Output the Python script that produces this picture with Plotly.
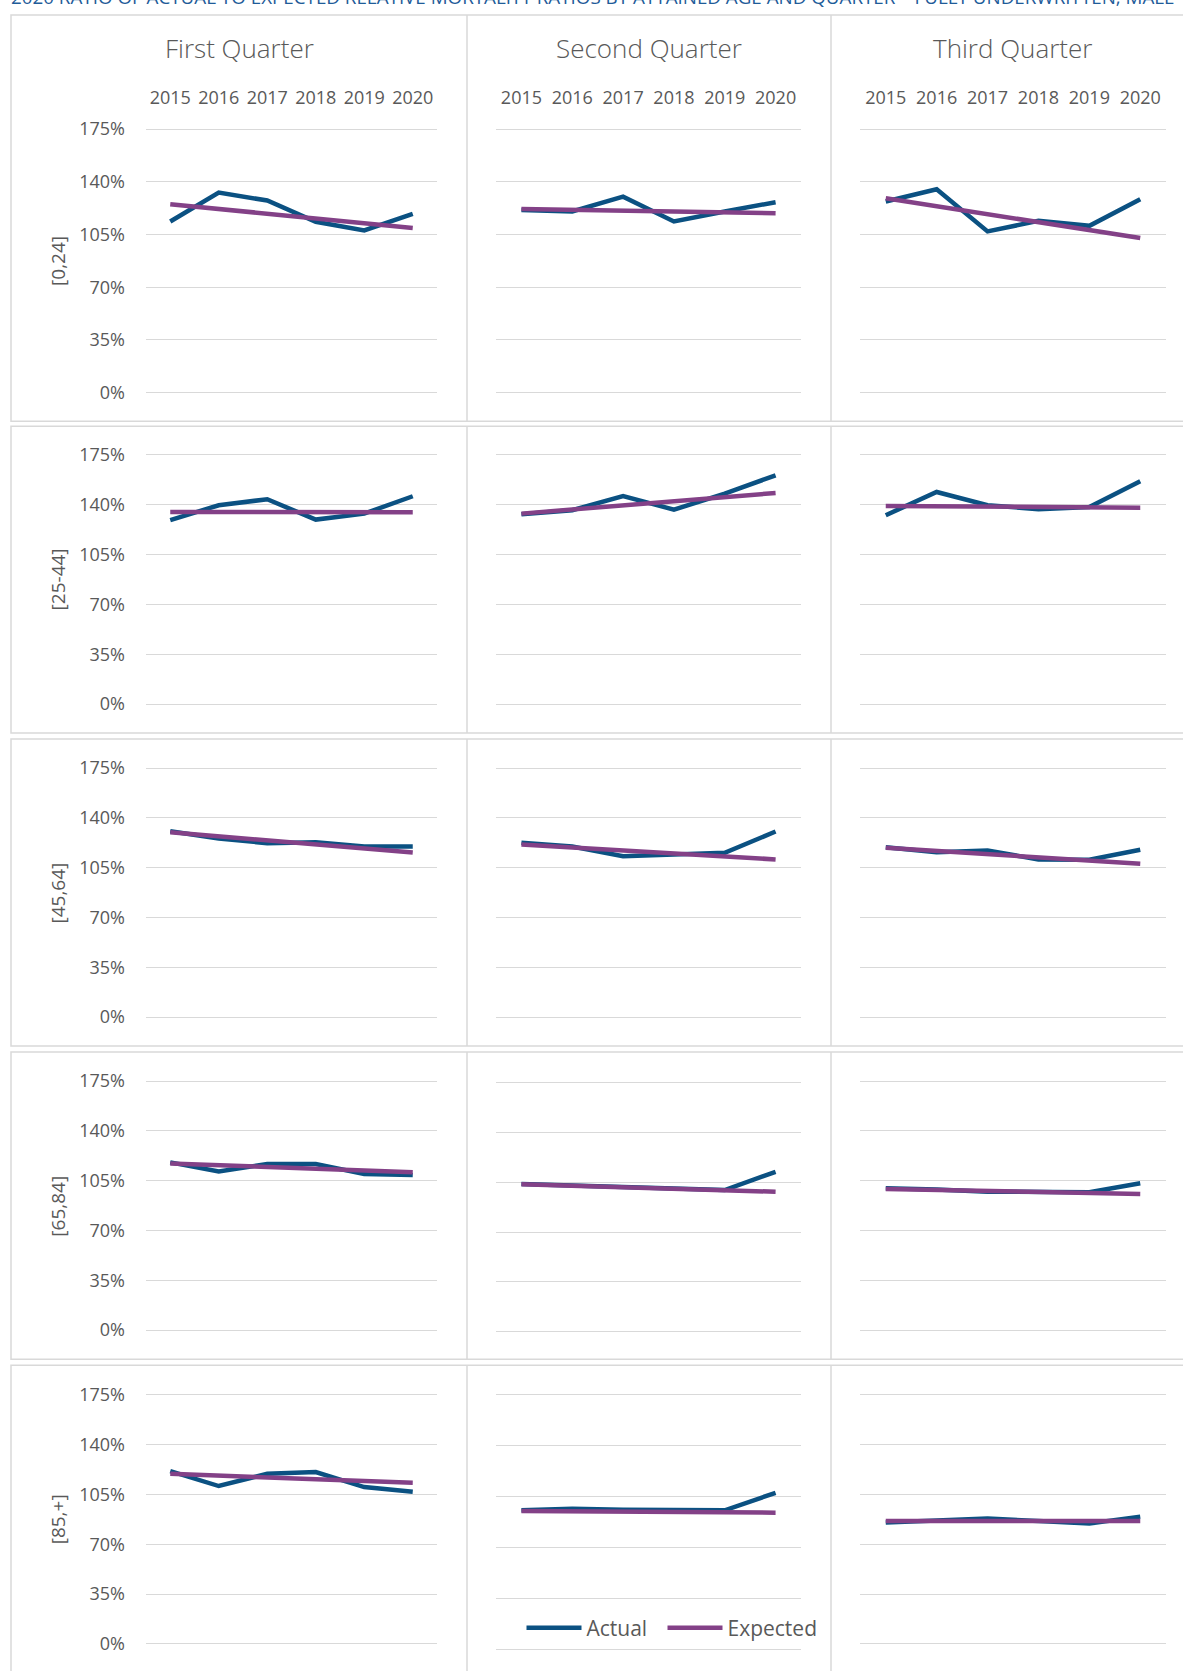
import plotly.graph_objects as go

W, H = 1183, 1671

years = ["2015", "2016", "2017", "2018", "2019", "2020"]
quarters = ["First Quarter", "Second Quarter", "Third Quarter"]
age_bands = ["[0,24]", "[25-44]", "[45,64]", "[65,84]", "[85,+]"]
pct_ticks = [0, 35, 70, 105, 140, 175]
pct_labels = ["0%", "35%", "70%", "105%", "140%", "175%"]

# A/E ratios (%) per age band, one list per quarter (Q1, Q2, Q3)
actual_0_24 = [
    [113.7, 132.9, 127.6, 113.5, 107.8, 118.8],
    [121.4, 120.3, 130.2, 113.7, 120.3, 126.5],
    [127.0, 135.1, 107.1, 114.1, 110.8, 128.5],
]
expected_0_24 = [
    [125.2, 122.0, 118.7, 115.5, 112.4, 109.3],
    [121.9, 121.4, 120.9, 120.3, 119.8, 119.2],
    [129.1, 123.8, 118.5, 113.3, 108.0, 102.7],
]
actual_25_44 = [
    [129.1, 139.6, 143.8, 129.5, 133.7, 145.9],
    [133.3, 136.1, 146.1, 136.5, 147.7, 160.6],
    [132.6, 148.9, 139.6, 136.8, 138.4, 156.4],
]
expected_25_44 = [
    [134.9, 134.8, 134.7, 134.7, 134.7, 134.7],
    [133.7, 136.6, 139.5, 142.4, 145.3, 148.2],
    [139.1, 138.9, 138.6, 138.4, 138.1, 137.9],
]
actual_45_64 = [
    [130.6, 125.5, 122.2, 122.9, 119.9, 119.9],
    [122.5, 119.9, 113.1, 114.1, 115.5, 130.4],
    [119.4, 115.9, 117.1, 110.8, 110.6, 117.6],
]
expected_45_64 = [
    [129.9, 127.1, 124.2, 121.4, 118.5, 115.7],
    [121.3, 119.2, 117.1, 115.0, 112.9, 110.8],
    [119.0, 116.8, 114.5, 112.3, 110.0, 107.8],
]
actual_65_84 = [
    [117.9, 111.6, 116.7, 116.7, 109.7, 109.0],
    [103.8, 102.8, 101.6, 100.5, 99.6, 112.4],
    [99.7, 98.9, 97.3, 96.9, 96.9, 103.2],
]
expected_65_84 = [
    [117.2, 115.9, 114.7, 113.4, 112.2, 110.9],
    [103.6, 102.6, 101.5, 100.5, 99.4, 98.4],
    [99.2, 98.5, 97.8, 97.1, 96.4, 95.7],
]
actual_85_plus = [
    [121.4, 110.9, 119.5, 120.7, 110.2, 106.9],
    [95.5, 96.6, 95.9, 95.9, 95.5, 107.6],
    [85.2, 86.8, 88.0, 86.4, 84.5, 89.4],
]
expected_85_plus = [
    [119.5, 118.2, 117.0, 115.7, 114.5, 113.2],
    [95.1, 94.9, 94.6, 94.4, 94.1, 93.9],
    [86.4, 86.4, 86.4, 86.4, 86.4, 86.4],
]

actual = [actual_0_24, actual_25_44, actual_45_64, actual_65_84, actual_85_plus]
expected = [expected_0_24, expected_25_44, expected_45_64, expected_65_84, expected_85_plus]

ACTUAL_COLOR = "#0B5182"
EXPECTED_COLOR = "#834187"
GRID = "#D9D9D9"
TEXT = "#595959"
FONT = "Open Sans"

# grid geometry (pixels): plot x-extent per column, y of 0% and 175% per row
col_x = [(146.0, 437.0), (496.0, 801.0), (860.3, 1165.7)]
col_box = [(11.0, 467.0), (467.0, 831.0), (831.0, 1193.0)]
row_zero = [390.3, 703.0, 1017.3, 1331.7, 1646.7]
row_top = [125.7, 452.7, 767.3, 1081.7, 1396.7]
panel_override = {(3, 1): (1333.3, 1083.3), (4, 1): (1652.0, 1396.7)}
row_box = [(11.0, 419.0), (424.0, 732.0), (738.0, 1046.5), (1052.5, 1361.0), (1367.0, 1690.0)]
Y_LO, Y_HI = -6.0, 181.0


def px_x(x):
    return x / W


def px_y(y):
    return 1 - y / H


fig = go.Figure()
layout_axes = {}

for i in range(len(age_bands)):
    for j in range(len(quarters)):
        n = i * 3 + j + 1
        xs = "" if n == 1 else str(n)
        zero, top = panel_override.get((i, j), (row_zero[i], row_top[i]))
        scale = (zero - top) / 175.0
        bottom_px = zero - Y_LO * scale
        top_px = top - (Y_HI - 175.0) * scale

        fig.add_trace(go.Scatter(
            x=years, y=actual[i][j], mode="lines", name="Actual",
            line=dict(color=ACTUAL_COLOR, width=4.5),
            xaxis="x" + xs, yaxis="y" + xs,
            legend="legend", legendgroup="Actual", showlegend=(n == 1),
            hovertemplate="%{x}: %{y:.1f}%<extra>Actual</extra>",
        ))
        fig.add_trace(go.Scatter(
            x=years, y=expected[i][j], mode="lines", name="Expected",
            line=dict(color=EXPECTED_COLOR, width=4.5),
            xaxis="x" + xs, yaxis="y" + xs,
            legend="legend2", legendgroup="Expected", showlegend=(n == 1),
            hovertemplate="%{x}: %{y:.1f}%<extra>Expected</extra>",
        ))

        layout_axes["xaxis" + xs] = dict(
            domain=[px_x(col_x[j][0]), px_x(col_x[j][1])],
            anchor="y" + xs, type="category", range=[-0.5, 5.5],
            showgrid=False, zeroline=False, showline=False, ticks="",
            side="top", showticklabels=(i == 0), ticklabelstandoff=12,
            tickfont=dict(family=FONT, size=18, color=TEXT),
            fixedrange=True,
        )
        layout_axes["yaxis" + xs] = dict(
            domain=[px_y(bottom_px), px_y(top_px)],
            anchor="x" + xs, range=[Y_LO, Y_HI],
            tickmode="array", tickvals=pct_ticks, ticktext=pct_labels,
            showgrid=True, gridcolor=GRID, gridwidth=1.3,
            zeroline=False, showline=False, ticks="",
            showticklabels=(j == 0), ticklabelstandoff=20,
            tickfont=dict(family=FONT, size=18, color=TEXT),
            fixedrange=True,
        )

# panel frames
shapes = []
for (y0, y1) in row_box:
    shapes.append(dict(type="rect", xref="paper", yref="paper",
                       x0=px_x(11.0), x1=px_x(1200.0), y0=px_y(y1), y1=px_y(y0),
                       line=dict(color=GRID, width=1.5), layer="below"))
    for xv in (467.0, 831.0):
        shapes.append(dict(type="line", xref="paper", yref="paper",
                           x0=px_x(xv), x1=px_x(xv), y0=px_y(y1), y1=px_y(y0),
                           line=dict(color=GRID, width=1.5), layer="below"))

annotations = [
    dict(text="2020 RATIO OF ACTUAL TO EXPECTED RELATIVE MORTALITY RATIOS BY ATTAINED AGE AND QUARTER – FULLY UNDERWRITTEN, MALE",
         xref="paper", yref="paper", x=px_x(9.0), y=px_y(-7.0),
         xanchor="left", yanchor="middle", showarrow=False,
         font=dict(family=FONT, size=18.8, color="#1F5C99")),
]
for j, q in enumerate(quarters):
    annotations.append(dict(
        text=q, xref="paper", yref="paper",
        x=px_x((col_box[j][0] + col_box[j][1]) / 2), y=px_y(44.0),
        xanchor="center", yanchor="middle", showarrow=False,
        font=dict(family=FONT, size=26, color=TEXT, weight=300),
    ))
for i, band in enumerate(age_bands):
    annotations.append(dict(
        text=band, xref="paper", yref="paper",
        x=px_x(58.0), y=px_y((row_zero[i] + row_top[i]) / 2),
        xanchor="center", yanchor="middle", textangle=-90, showarrow=False,
        font=dict(family=FONT, size=19, color=TEXT),
    ))

legend_style = dict(orientation="h", yanchor="middle", xanchor="left",
                    font=dict(family=FONT, size=21, color=TEXT),
                    bgcolor="rgba(0,0,0,0)", itemwidth=55)

fig.update_layout(
    width=W, height=H,
    margin=dict(l=0, r=0, t=0, b=0),
    paper_bgcolor="white", plot_bgcolor="white",
    font=dict(family=FONT, color=TEXT),
    showlegend=True,
    legend=dict(x=px_x(521.5), y=px_y(1631.0), **legend_style),
    legend2=dict(x=px_x(662.5), y=px_y(1631.0), **legend_style),
    shapes=shapes,
    annotations=annotations,
    **layout_axes,
)

fig.write_html("out.html")
